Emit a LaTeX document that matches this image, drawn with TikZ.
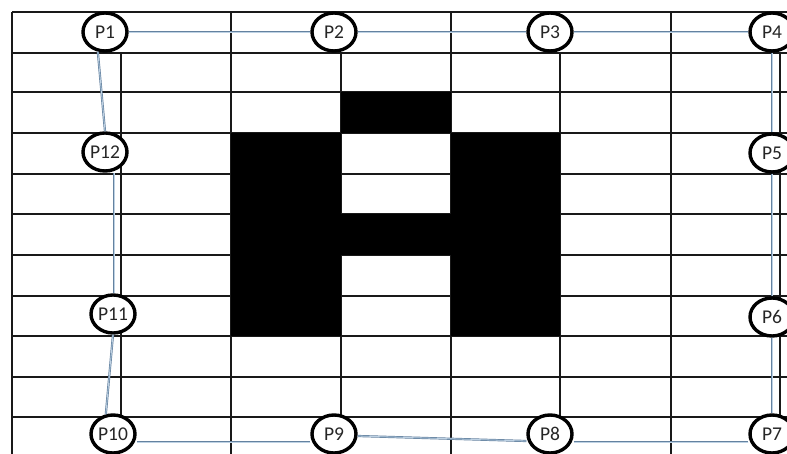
\documentclass[tikz,border=0pt]{standalone}
\usepackage{fontspec}
\setmainfont{Carlito}
\usetikzlibrary{shapes.geometric}
\begin{document}
\begin{tikzpicture}[x=1pt,y=-1pt,
  gridline/.style={line width=1.4pt,draw=black!90},
  cellfill/.style={fill=black},
  pnode/.style={ellipse,draw=black,line width=3.4pt,fill=white,minimum width=44pt,minimum height=38pt,inner sep=0pt,font=\fontsize{19.5}{19.5}\selectfont,text=black!85},
  link/.style={draw={rgb,255:red,100;green,130;blue,160},line width=0.7pt,double={rgb,255:red,190;green,210;blue,228},double distance=0.8pt}]
\useasboundingbox (0,0) rectangle (787,454);
\fill[white] (0,0) rectangle (787,454);
% horizontal grid lines
\foreach \y in {12,53,92,133,174,214,255,296,336,377,417}
  \draw[gridline] (12,\y) -- (787,\y);
% full vertical lines
\foreach \x in {12,231,451,671}
  \draw[gridline] (\x,12) -- (\x,454);
% partial vertical lines
\foreach \x in {121,341,560,780}
  \draw[gridline] (\x,53) -- (\x,417);
% black cells
\fill[cellfill] (341,92) rectangle (451,133);
\fill[cellfill] (231,133) rectangle (341,336);
\fill[cellfill] (451,133) rectangle (560,336);
\fill[cellfill] (341,214) rectangle (451,255);
% nodes
\node[pnode] (P1) at (105,32) {P1};
\node[pnode] (P2) at (334,32) {P2};
\node[pnode] (P3) at (550,32) {P3};
\node[pnode] (P4) at (772,32) {P4};
\node[pnode] (P5) at (772,153) {P5};
\node[pnode] (P6) at (772,317) {P6};
\node[pnode] (P7) at (772,434) {P7};
\node[pnode] (P8) at (550,434) {P8};
\node[pnode] (P9) at (334,434) {P9};
\node[pnode] (P10) at (113,434) {P10};
\node[pnode] (P11) at (113,314) {P11};
\node[pnode] (P12) at (105,152) {P12};
% connectors
\draw[link] (P1.east) -- (P2.west);
\draw[link] (P2.east) -- (P3.west);
\draw[link] (P3.east) -- (P4.west);
\draw[link] (P4.south) -- (P5.north);
\draw[link] (P5.south) -- (P6.north);
\draw[link] (P6.south) -- (P7.north);
\draw[link] ([yshift=-8pt]P7.west) -- ([yshift=-8pt]P8.east);
\draw[link] ([yshift=-7pt]P8.west) -- ([yshift=-2pt]P9.east);
\draw[link] ([yshift=-8pt]P9.west) -- ([yshift=-8pt]P10.east);
\draw[link] (P10.110) -- (P11.south);
\draw[link] ([xshift=1pt]P11.north) -- ([xshift=9pt]P12.south);
\draw[link] (P12.north) -- (P1.250);
\end{tikzpicture}
\end{document}
